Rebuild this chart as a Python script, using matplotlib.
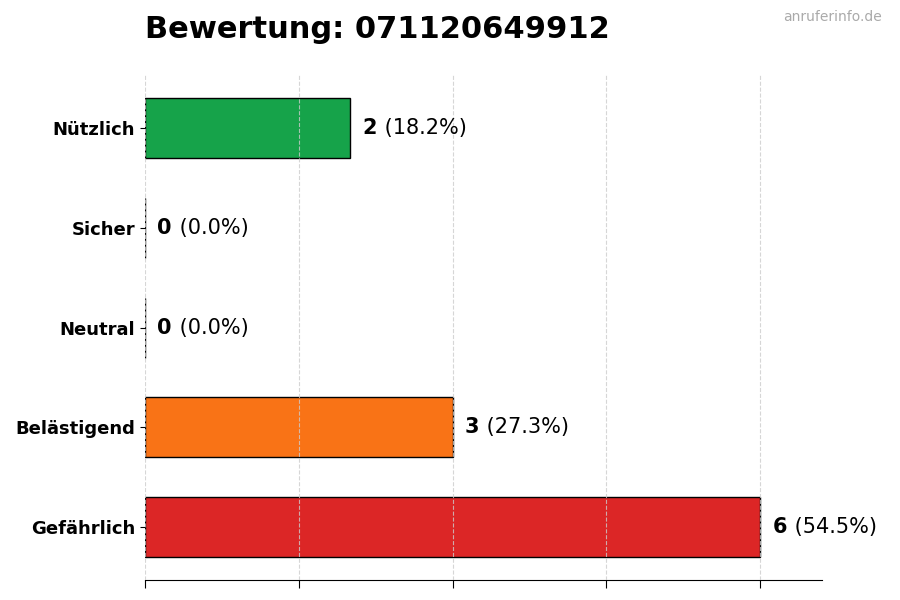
import matplotlib.pyplot as plt

# data
categories = ['Gefährlich', 'Belästigend', 'Neutral', 'Sicher', 'Nützlich']
counts = [6, 3, 0, 0, 2]
colors = ['#dc2626', '#f97316', '#6b7280', '#3b82f6', '#16a34a']
title = 'Bewertung: 071120649912'

total = sum(counts)

fig = plt.figure(figsize=(9, 6), dpi=100)
ax = fig.add_axes([0.161, 0.033, 0.752, 0.842])

bars = ax.barh(categories, counts, height=0.6, color=colors,
               edgecolor='black', linewidth=1, zorder=1)

ax.set_xlim(0, max(counts) * 1.1)

# value labels: bold count + normal percentage
for bar, c in zip(bars, counts):
    y = bar.get_y() + bar.get_height() / 2
    x = bar.get_width() + 0.12
    pct = c / total * 100
    t = ax.text(x, y, str(c), va='center', ha='left', fontsize=15,
                fontweight='bold')
    fig.canvas.draw()
    bb = t.get_window_extent().transformed(ax.transData.inverted())
    ax.text(bb.x1 + 0.01, y, f' ({pct:.1f}%)', va='center', ha='left', fontsize=15)

ax.set_xticks([0, 1.5, 3, 4.5, 6])
ax.set_xticklabels([])
ax.tick_params(axis='x', length=6)
ax.tick_params(axis='y', labelsize=13)
for lbl in ax.get_yticklabels():
    lbl.set_fontweight('bold')

ax.grid(axis='x', linestyle='--', color='#cccccc', linewidth=0.8, alpha=0.8, zorder=3)
ax.set_axisbelow(False)
for s in ['top', 'right', 'left']:
    ax.spines[s].set_visible(False)

fig.text(0.161, 0.95, title, fontsize=22, fontweight='bold', ha='left', va='center')
fig.text(0.98, 0.972, 'anruferinfo.de', fontsize=10, color='#aaaaaa',
         ha='right', va='center')

fig.savefig('out.png', dpi=100)
